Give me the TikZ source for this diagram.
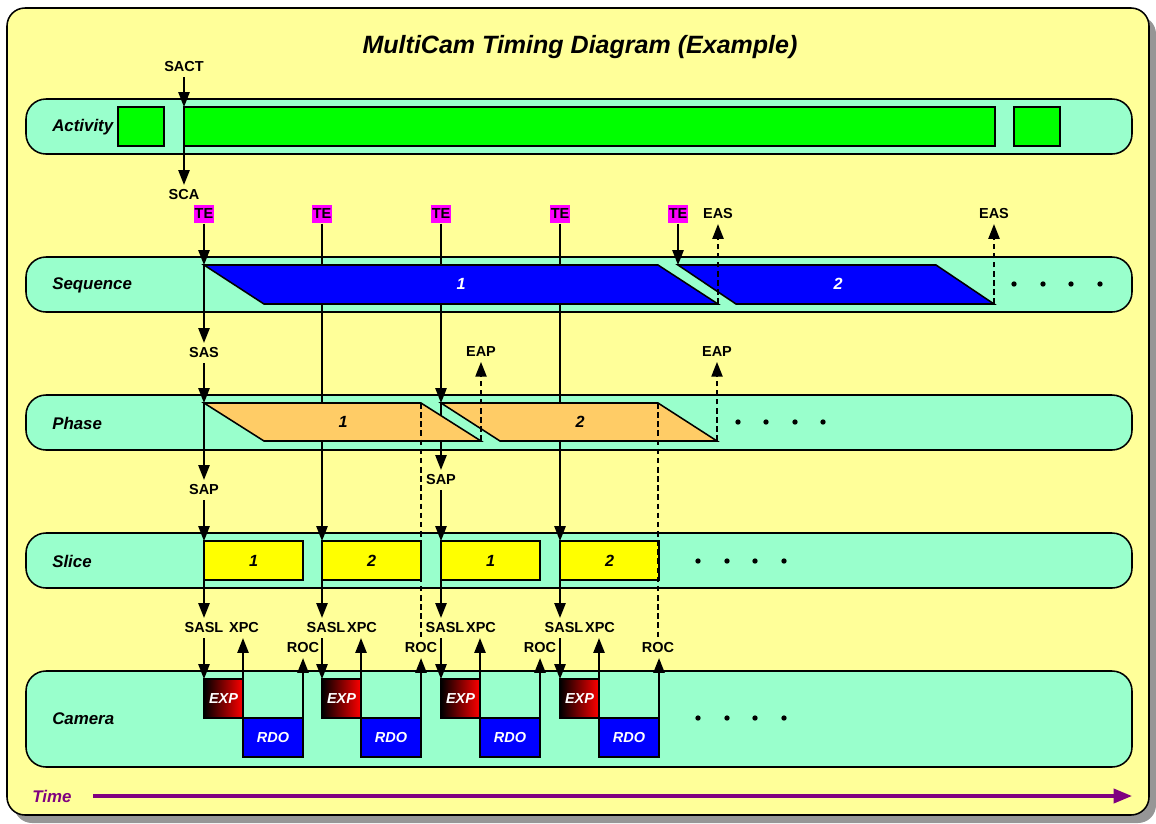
\documentclass[tikz,border=0pt]{standalone}
\usepackage{fontspec}
\setmainfont{Liberation Sans}
\usepackage{tikz}
\usetikzlibrary{arrows.meta, positioning}

\definecolor{paper}{RGB}{255,255,153}
\definecolor{lanefill}{RGB}{153,255,204}
\definecolor{actgreen}{RGB}{0,255,0}
\definecolor{seqblue}{RGB}{0,0,255}
\definecolor{phaseorange}{RGB}{255,204,102}
\definecolor{sliceyellow}{RGB}{255,255,0}
\definecolor{tepink}{RGB}{255,0,255}
\definecolor{timepurple}{RGB}{128,0,128}
\definecolor{shadowgray}{RGB}{150,150,150}

\pgfdeclarelayer{back}
\pgfdeclarelayer{wires}
\pgfsetlayers{back,wires,main}

\begin{document}
\begin{tikzpicture}[
    x=0.025cm, y=-0.025cm,
    lane/.style={draw, fill=lanefill, rounded corners=0.5cm, line width=1.1pt},
    lanelbl/.style={anchor=west, inner sep=0pt, font=\bfseries\itshape\fontsize{12}{14}\selectfont},
    tag/.style={font=\bfseries\fontsize{10.3}{12}\selectfont},
    te/.style={tag, fill=tepink, inner sep=0pt, minimum width=0.5cm, minimum height=0.47cm},
    box/.style={draw, line width=1.1pt, anchor=north west, inner sep=0pt, outer sep=0pt},
    actbar/.style={box, fill=actgreen, minimum height=0.975cm},
    seqbar/.style={draw, fill=seqblue, line width=1.1pt},
    phasebar/.style={draw, fill=phaseorange, line width=1.1pt},
    barnum/.style={font=\bfseries\itshape\fontsize{11.5}{13}\selectfont},
    slicebar/.style={box, barnum, fill=sliceyellow, minimum width=2.475cm, minimum height=0.975cm},
    expbox/.style={box, left color=black, right color=red, minimum size=0.975cm, text=white, font=\bfseries\itshape\fontsize{10.3}{12}\selectfont},
    rdobox/.style={box, fill=seqblue, minimum width=1.5cm, minimum height=0.975cm, text=white, font=\bfseries\itshape\fontsize{10.3}{12}\selectfont},
    arr/.style={-{Triangle[length=10.5pt,width=8pt]}, line width=1.1pt},
    dline/.style={line width=1.1pt, dash pattern=on 4pt off 2.5pt},
    darr/.style={arr, dline},
    timearr/.style={-{Triangle[length=13pt,width=10pt]}, line width=2.4pt, draw=timepurple}
]
\useasboundingbox (0,0) rectangle (1156,823);

\begin{pgfonlayer}{back}
    % frame and lanes
    \fill[shadowgray, rounded corners=0.45cm] (14,16) rectangle (1156,823);
    \draw[fill=paper, rounded corners=0.45cm, line width=1.1pt] (7,8) rectangle (1149,815);
    \draw[lane] (26,99) rectangle (1132,154);
    \draw[lane] (26,257) rectangle (1132,312);
    \draw[lane] (26,395) rectangle (1132,450);
    \draw[lane] (26,533) rectangle (1132,588);
    \draw[lane] (26,671) rectangle (1132,767);
\end{pgfonlayer}

\node[font=\bfseries\itshape\fontsize{17.8}{20}\selectfont] (title) at (580,47) {MultiCam Timing Diagram (Example)};

\node[lanelbl] (activity) at (52,127) {Activity};
\node[lanelbl] (sequence) at (52,285) {Sequence};
\node[lanelbl] (phase) at (52,423) {Phase};
\node[lanelbl] (slice) at (52,561) {Slice};
\node[lanelbl] (camera) at (52,719) {Camera};

% activity
\node[actbar, minimum width=1.15cm] (act1) at (118,107) {};
\node[actbar, minimum width=20.275cm] (act2) at (184,107) {};
\node[actbar, minimum width=1.15cm] (act3) at (1014,107) {};

% sequences
\coordinate (seq1tl) at (204,265);
\coordinate (seq1tr) at (658,265);
\coordinate (seq1br) at (718,304);
\coordinate (seq1bl) at (264,304);
\coordinate (seq2tl) at (678,265);
\coordinate (seq2tr) at (936,265);
\coordinate (seq2br) at (994,304);
\coordinate (seq2bl) at (736,304);
\draw[seqbar] (seq1tl) -- (seq1tr) -- (seq1br) -- (seq1bl) -- cycle;
\draw[seqbar] (seq2tl) -- (seq2tr) -- (seq2br) -- (seq2bl) -- cycle;
\node[barnum, text=white] (seq1) at (461,284) {1};
\node[barnum, text=white] (seq2) at (838,284) {2};

% phases
\coordinate (ph1tl) at (204,403);
\coordinate (ph1tr) at (421,403);
\coordinate (ph1br) at (481,441);
\coordinate (ph1bl) at (264,441);
\coordinate (ph2tl) at (441,403);
\coordinate (ph2tr) at (658,403);
\coordinate (ph2br) at (717,441);
\coordinate (ph2bl) at (500,441);
\draw[phasebar] (ph1tl) -- (ph1tr) -- (ph1br) -- (ph1bl) -- cycle;
\draw[phasebar] (ph2tl) -- (ph2tr) -- (ph2br) -- (ph2bl) -- cycle;
\node[barnum] (ph1) at (343,422) {1};
\node[barnum] (ph2) at (580,422) {2};

% slices
\node[slicebar] (sl1) at (204,541) {1};
\node[slicebar] (sl2) at (322,541) {2};
\node[slicebar] (sl3) at (441,541) {1};
\node[slicebar] (sl4) at (560,541) {2};

% camera
\node[expbox] (exp1) at (204,679) {EXP};
\node[rdobox] (rdo1) at (exp1.south east) {RDO};
\node[expbox] (exp2) at (322,679) {EXP};
\node[rdobox] (rdo2) at (exp2.south east) {RDO};
\node[expbox] (exp3) at (441,679) {EXP};
\node[rdobox] (rdo3) at (exp3.south east) {RDO};
\node[expbox] (exp4) at (560,679) {EXP};
\node[rdobox] (rdo4) at (exp4.south east) {RDO};

% events
\node[tag] (sact) at (184,67) {SACT};
\node[tag] (sca) at (184,195) {SCA};
\node[te] (te1) at (204,214) {TE};
\node[te] (te2) at (322,214) {TE};
\node[te] (te3) at (441,214) {TE};
\node[te] (te4) at (560,214) {TE};
\node[te] (te5) at (678,214) {TE};
\node[tag] (eas1) at (718,214) {EAS};
\node[tag] (eas2) at (994,214) {EAS};
\node[tag] (sas) at (204,353) {SAS};
\node[tag] (eap1) at (481,352) {EAP};
\node[tag] (eap2) at (717,352) {EAP};
\node[tag] (sap1) at (204,490) {SAP};
\node[tag] (sap2) at (441,480) {SAP};
\node[tag] (sasl1) at (204,628) {SASL};
\node[tag] (sasl2) at (326,628) {SASL};
\node[tag] (sasl3) at (445,628) {SASL};
\node[tag] (sasl4) at (564,628) {SASL};
\node[tag] (xpc1) at (244,628) {XPC};
\node[tag] (xpc2) at (362,628) {XPC};
\node[tag] (xpc3) at (481,628) {XPC};
\node[tag] (xpc4) at (600,628) {XPC};
\node[tag] (roc1) at (303,648) {ROC};
\node[tag] (roc2) at (421,648) {ROC};
\node[tag] (roc3) at (540,648) {ROC};
\node[tag] (roc4) at (658,648) {ROC};

\begin{pgfonlayer}{wires}
    \draw[arr] (sact) -- (act2.north west);
    \draw[arr] (act2.south west) -- (sca);

    \draw[arr] (te1) -- (seq1tl);
    \draw[arr] (seq1tl) -- (sas);
    \draw[arr] (sas) -- (ph1tl);
    \draw[arr] (ph1tl) -- (sap1);
    \draw[arr] (sap1) -- (sl1.north west);
    \draw[arr] (sl1.south west) -- (sasl1);
    \draw[arr] (sasl1) -- (exp1.north west);

    \draw[arr] (te2) -- (sl2.north west);
    \draw[arr] (sl2.south west) -- (sl2.south west |- sasl2.north);
    \draw[arr] (sl2.south west |- sasl2.south) -- (exp2.north west);

    \draw[arr] (te3) -- (ph2tl);
    \draw[arr] (ph2tl) -- (sap2);
    \draw[arr] (sap2) -- (sl3.north west);
    \draw[arr] (sl3.south west) -- (sl3.south west |- sasl3.north);
    \draw[arr] (sl3.south west |- sasl3.south) -- (exp3.north west);

    \draw[arr] (te4) -- (sl4.north west);
    \draw[arr] (sl4.south west) -- (sl4.south west |- sasl4.north);
    \draw[arr] (sl4.south west |- sasl4.south) -- (exp4.north west);

    \draw[arr] (te5) -- (seq2tl);
\end{pgfonlayer}

% end of sequences and phases
\draw[darr] (seq1br) -- (eas1);
\draw[darr] (seq2br) -- (eas2);
\draw[darr] (ph1br) -- (eap1);
\draw[darr] (ph2br) -- (eap2);
\draw[dline] (ph1tr) -- (roc2);
\draw[dline] (ph2tr) -- (roc4);

% camera events
\draw[arr] (exp1.north east) -- (exp1.north east |- xpc1.south);
\draw[arr] (exp2.north east) -- (exp2.north east |- xpc2.south);
\draw[arr] (exp3.north east) -- (exp3.north east |- xpc3.south);
\draw[arr] (exp4.north east) -- (exp4.north east |- xpc4.south);
\draw[arr] (rdo1.south east) -- (rdo1.south east |- roc1.south);
\draw[arr] (rdo2.south east) -- (rdo2.south east |- roc2.south);
\draw[arr] (rdo3.south east) -- (rdo3.south east |- roc3.south);
\draw[arr] (rdo4.south east) -- (rdo4.south east |- roc4.south);

% more to come
\foreach \x in {1014,1043,1071,1100} \fill (\x,284) circle[radius=1.9pt];
\foreach \x in {738,766,795,823} \fill (\x,422) circle[radius=1.9pt];
\foreach \x in {698,727,755,784} \fill (\x,561) circle[radius=1.9pt];
\foreach \x in {698,727,755,784} \fill (\x,718) circle[radius=1.9pt];

% time axis
\node[font=\bfseries\itshape\fontsize{12}{14}\selectfont, text=timepurple] (time) at (52,796) {Time};
\coordinate (tstart) at (93,796);
\coordinate (tend) at (1132,796);
\draw[timearr] (tstart) -- (tend);
\end{tikzpicture}
\end{document}
